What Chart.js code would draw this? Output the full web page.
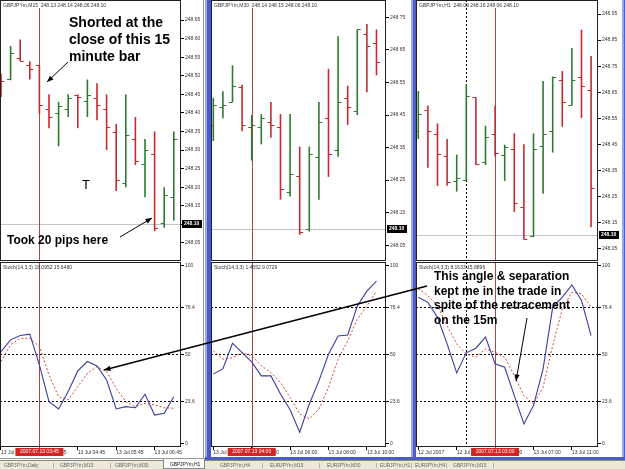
<!DOCTYPE html>
<html>
<head>
<meta charset="utf-8">
<script src="https://cdn.jsdelivr.net/npm/chart.js@4.4.0/dist/chart.umd.min.js"></script>
<style>
  body { margin: 0; width: 625px; height: 469px; overflow: hidden; background: #fff; position: relative;
         font-family: "Liberation Sans", Arial, sans-serif; }
  canvas { position: absolute; }
  .note { position: absolute; font-weight: bold; color: #000; white-space: nowrap; z-index: 5; }
  .blue { position: absolute; background: linear-gradient(to right, #9aa4e8 0, #9aa4e8 2px, #4a5ad0 2px); z-index: 3; }
  .tabs { position: absolute; left: 0; top: 460px; width: 625px; height: 9px; background: #ece9d8; border-top: 1px solid #8a8a8a; box-sizing: border-box; }
  .tab { position: absolute; top: 1px; font-size: 5px; line-height: 7px; color: #6a6a6a; white-space: nowrap; letter-spacing: -0.15px; }
  .tab.on { top: -2px; height: 10px; padding: 2px 4px 0 6px; background: #fafaf8; border: 1px solid #8a8a8a; border-top: none; color: #222; box-sizing: border-box; }
</style>
</head>
<body>
<canvas id="p1" width="205" height="261" style="left:0;top:0"></canvas>
<canvas id="s1" width="205" height="197" style="left:0;top:261px"></canvas>
<canvas id="p2" width="200" height="261" style="left:211px;top:0"></canvas>
<canvas id="s2" width="200" height="197" style="left:211px;top:261px"></canvas>
<canvas id="p3" width="206" height="261" style="left:416px;top:0"></canvas>
<canvas id="s3" width="206" height="197" style="left:416px;top:261px"></canvas>

<div style="position:absolute;left:203px;top:0;width:1px;height:459px;background:#999"></div>
<div style="position:absolute;left:0;top:458px;width:205px;height:1px;background:#999"></div>
<div class="blue" style="left:205px;top:0;width:6px;height:460px"></div>
<div class="blue" style="left:411px;top:0;width:5px;height:460px"></div>
<div class="blue" style="left:622px;top:0;width:3px;height:460px"></div>
<div class="blue" style="left:205px;top:457px;width:420px;height:3px;background:#4a5ad0"></div>

<div class="tabs">
  <span class="tab" style="left:4px">GBPJPYm,Daily</span>
  <span class="tab" style="left:53px">|</span>
  <span class="tab" style="left:60px">GBPJPYm,M15</span>
  <span class="tab" style="left:110px">|</span>
  <span class="tab" style="left:115px">GBPJPYm,M30</span>
  <span class="tab on" style="left:163px">GBPJPYm,H1</span>
  <span class="tab" style="left:220px">GBPJPYm,H4</span>
  <span class="tab" style="left:262px">|</span>
  <span class="tab" style="left:270px">EURJPYm,M15</span>
  <span class="tab" style="left:319px">|</span>
  <span class="tab" style="left:327px">EURJPYm,M30</span>
  <span class="tab" style="left:376px">|</span>
  <span class="tab" style="left:380px">EURJPYm,H1</span>
  <span class="tab" style="left:411px">|</span>
  <span class="tab" style="left:415px">EURJPYm,H4</span>
  <span class="tab" style="left:446px">|</span>
  <span class="tab" style="left:453px">GBPJPYm,M15</span>
  <span class="tab" style="left:493px">|</span>
</div>

<div class="note" style="left:69px;top:14px;font-size:14px;line-height:17px">Shorted at the<br>close of this 15<br>minute bar</div>
<div class="note" style="left:7px;top:233px;font-size:12px;line-height:14px">Took 20 pips here</div>
<div class="note" style="left:82px;top:177px;font-size:13px;font-weight:normal">T</div>
<div class="note" style="left:434px;top:269px;font-size:12px;line-height:14.5px">This angle &amp; separation<br>kept me in the trade in<br>spite of the retracement<br>on the 15m</div>

<canvas id="overlay" width="625" height="469" style="left:0;top:0;z-index:6;pointer-events:none"></canvas>

<script>
// GBPJPYm M15 (left window)
const m15Open  = [248.500, 248.490, 248.549, 248.528, 248.528, 248.410, 248.400, 248.411, 248.449, 248.431, 248.440, 248.410, 248.350, 248.211, 248.331, 248.262, 248.290, 248.103, 248.173];
const m15High  = [248.506, 248.580, 248.598, 248.539, 248.528, 248.450, 248.430, 248.450, 248.450, 248.490, 248.480, 248.450, 248.370, 248.450, 248.389, 248.330, 248.350, 248.200, 248.350];
const m15Low   = [248.443, 248.488, 248.539, 248.490, 248.398, 248.359, 248.310, 248.389, 248.359, 248.389, 248.380, 248.300, 248.190, 248.200, 248.260, 248.173, 248.082, 248.091, 248.110];
const m15Close = [248.485, 248.560, 248.540, 248.519, 248.420, 248.390, 248.418, 248.440, 248.443, 248.449, 248.420, 248.361, 248.220, 248.340, 248.270, 248.300, 248.090, 248.180, 248.330];
const m15Main   = [51.6, 58.2, 60.6, 61.4, 44.1, 23.4, 19.3, 29.1, 40.7, 46.0, 43.5, 35.6, 19.3, 20.6, 20.0, 27.6, 15.9, 16.9, 26.2];
const m15Signal = [46.0, 55.4, 59.1, 59.1, 54.4, 38.5, 26.2, 24.4, 31.9, 39.4, 43.1, 40.3, 31.0, 23.4, 20.6, 22.5, 21.6, 20.0, 19.7];
const m15PriceTicks = [248.05, 248.10, 248.15, 248.20, 248.25, 248.30, 248.35, 248.40, 248.45, 248.50, 248.55, 248.60, 248.65];
const m15TimeLabels = ['13 Jul 02:45', '13 Jul 03:45', '13 Jul 04:45', '13 Jul 05:45', '13 Jul 06:45'];

// GBPJPYm M30 (middle window)
const m30Open  = [248.420, 248.474, 248.490, 248.536, 248.414, 248.412, 248.430, 248.412, 248.213, 248.262, 248.100, 248.322, 248.440, 248.342, 248.503, 248.463, 248.700, 248.672];
const m30High  = [248.503, 248.523, 248.603, 248.543, 248.450, 248.453, 248.490, 248.453, 248.453, 248.353, 248.353, 248.490, 248.592, 248.692, 248.540, 248.713, 248.730, 248.713];
const m30Low   = [248.370, 248.440, 248.490, 248.400, 248.310, 248.360, 248.380, 248.190, 248.200, 248.082, 248.092, 248.190, 248.260, 248.322, 248.420, 248.450, 248.520, 248.572];
const m30Close = [248.480, 248.480, 248.540, 248.420, 248.420, 248.440, 248.420, 248.223, 248.270, 248.092, 248.330, 248.430, 248.331, 248.490, 248.474, 248.713, 248.662, 248.613];
const m30Main   = [38.9, 42.0, 56.3, 51.0, 45.8, 37.9, 37.9, 27.7, 18.9, 6.2, 22.1, 35.1, 50.1, 60.4, 60.9, 77.2, 85.6, 91.2];
const m30Signal = [52.0, 47.3, 48.2, 51.0, 49.2, 43.6, 39.8, 34.2, 25.8, 16.5, 13.7, 19.3, 31.4, 47.3, 57.6, 69.7, 77.2, 85.6];
const m30PriceTicks = [248.05, 248.15, 248.25, 248.35, 248.45, 248.55, 248.65, 248.75];
const m30TimeLabels = ['13 Jul 02:00', '13 Jul 04:00', '13 Jul 06:00', '13 Jul 08:00', '13 Jul 10:00'];

// GBPJPYm H1 (right window)
const h1Open  = [248.500, 248.582, 248.489, 248.403, 248.309, 248.312, 248.630, 248.380, 248.489, 248.410, 248.431, 248.210, 248.099, 248.442, 248.502, 248.695, 248.601, 248.708, 248.659];
const h1High  = [248.654, 248.599, 248.530, 248.470, 248.410, 248.680, 248.630, 248.521, 248.599, 248.448, 248.492, 248.450, 248.492, 248.693, 248.710, 248.731, 248.820, 248.890, 248.789];
const h1Low   = [248.470, 248.360, 248.290, 248.290, 248.268, 248.309, 248.370, 248.370, 248.403, 248.309, 248.190, 248.084, 248.093, 248.260, 248.418, 248.517, 248.599, 248.551, 248.131];
const h1Close = [248.566, 248.502, 248.412, 248.303, 248.320, 248.637, 248.373, 248.479, 248.418, 248.440, 248.225, 248.086, 248.431, 248.489, 248.708, 248.612, 248.698, 248.672, 248.281];
const h1Main   = [82.2, 79.3, 70.9, 55.9, 39.6, 50.9, 53.5, 59.7, 44.7, 42.8, 26.8, 10.9, 21.2, 41.9, 76.5, 82.2, 89.1, 80.3, 60.6];
const h1Signal = [86.9, 83.1, 77.5, 66.2, 55.9, 50.3, 48.4, 53.1, 51.2, 48.4, 38.1, 26.8, 22.2, 31.5, 55.0, 75.6, 85.0, 84.1, 76.5];
const h1PriceTicks = [248.05, 248.15, 248.25, 248.35, 248.45, 248.55, 248.65, 248.75, 248.85, 248.95];
const h1TimeLabels = ['12 Jul 2007', '12 Jul 23:00', '13 Jul 03:00', '13 Jul 07:00', '13 Jul 11:00'];

const timeTickBars = [0, 4, 8, 12, 16];
const stochLevels = [0, 23.6, 50, 76.4, 100];
const lastPrice = 248.10;

const FONT = '"Liberation Sans", Arial, sans-serif';
const BULL = '#2f7a30';
const BEAR = '#c62a2e';

const windows = [
  { price: 'p1', stoch: 's1', open: m15Open, high: m15High, low: m15Low, close: m15Close,
    main: m15Main, signal: m15Signal, ticks: m15PriceTicks, times: m15TimeLabels,
    title: 'GBPJPYm,M15  248.13 248.14 248.06 248.10', stochTitle: 'Stoch(14,3,3) 18.0952 15.6480',
    cursorBar: 4, cursorTime: '2007.07.13 03:45',
    xMin: -0.104, xMax: 18.75, yMin: 248.0014, yMax: 248.704, axisW: 24 },
  { price: 'p2', stoch: 's2', open: m30Open, high: m30High, low: m30Low, close: m30Close,
    main: m30Main, signal: m30Signal, ticks: m30PriceTicks, times: m30TimeLabels,
    title: 'GBPJPYm,M30  248.14 248.15 248.06 248.10', stochTitle: 'Stoch(14,3,3) 1.4652 9.0729',
    cursorBar: 4, cursorTime: '2007.07.13 04:00',
    xMin: -0.24, xMax: 17.99, yMin: 248.0014, yMax: 248.8036, axisW: 25 },
  { price: 'p3', stoch: 's3', open: h1Open, high: h1High, low: h1Low, close: h1Close,
    main: h1Main, signal: h1Signal, ticks: h1PriceTicks, times: h1TimeLabels,
    title: 'GBPJPYm,H1  248.09 248.16 248.06 248.10', stochTitle: 'Stoch(14,3,3) 8.1633 15.8896',
    cursorBar: 8, dotBar: 5, cursorTime: '2007.07.13 03:00',
    xMin: -0.24, xMax: 18.72, yMin: 248.0013, yMax: 249.0041, axisW: 24 }
];

// open / close ticks of each OHLC bar
function ohlcTicks(w) {
  return {
    id: 'ohlcTicks',
    afterDatasetsDraw(chart) {
      const { ctx, scales: { x, y } } = chart;
      ctx.save();
      ctx.lineWidth = 1.2;
      w.open.forEach((o, i) => {
        const px = x.getPixelForValue(i);
        const yo = Math.round(y.getPixelForValue(o)) + 0.5;
        const yc = Math.round(y.getPixelForValue(w.close[i])) + 0.5;
        ctx.strokeStyle = w.close[i] > o ? BULL : BEAR;
        ctx.beginPath();
        ctx.moveTo(px - 3.5, yo); ctx.lineTo(px, yo);
        ctx.moveTo(px, yc); ctx.lineTo(px + 3.5, yc);
        ctx.stroke();
      });
      ctx.restore();
    }
  };
}

// frame, cursor lines, labels like the terminal draws them
function windowDecor(w, isStoch) {
  return {
    id: 'windowDecor',
    beforeDatasetsDraw(chart) {
      const { ctx, chartArea: a, scales: { x, y } } = chart;
      ctx.save();
      ctx.lineWidth = 1;
      if (!isStoch) {
        const py = Math.round(y.getPixelForValue(lastPrice)) + 0.5;
        ctx.strokeStyle = '#c4c4c4';
        ctx.beginPath(); ctx.moveTo(a.left, py); ctx.lineTo(a.right, py); ctx.stroke();
      }
      if (w.dotBar !== undefined) {
        const dx = Math.round(x.getPixelForValue(w.dotBar)) + 0.5;
        ctx.setLineDash([2, 2]);
        ctx.strokeStyle = '#000';
        ctx.beginPath(); ctx.moveTo(dx, a.top); ctx.lineTo(dx, a.bottom); ctx.stroke();
        ctx.setLineDash([]);
      }
      const cx = Math.round(x.getPixelForValue(w.cursorBar)) + 0.5;
      ctx.strokeStyle = '#a84848';
      ctx.beginPath();
      ctx.moveTo(cx, isStoch ? a.top : a.top + 8);
      ctx.lineTo(cx, isStoch ? a.bottom + 2 : a.bottom);
      ctx.stroke();
      ctx.restore();
    },
    afterDraw(chart) {
      const { ctx, chartArea: a, scales: { x, y } } = chart;
      ctx.save();
      ctx.strokeStyle = '#222';
      ctx.lineWidth = 1;
      ctx.strokeRect(a.left + 0.5, a.top + 0.5, a.right - a.left - 1, a.bottom - a.top - 1);
      ctx.font = '5px ' + FONT;
      ctx.fillStyle = '#333';
      ctx.textBaseline = 'middle';
      ctx.textAlign = 'left';
      ctx.fillText(isStoch ? w.stochTitle : w.title, a.left + 3, a.top + 6);
      if (!isStoch) {
        const py = Math.round(y.getPixelForValue(lastPrice));
        ctx.fillStyle = '#000';
        ctx.fillRect(a.right + 1, py - 4, 20, 8);
        ctx.fillStyle = '#fff';
        ctx.font = 'bold 5px ' + FONT;
        ctx.fillText(lastPrice.toFixed(2), a.right + 3, py);
      } else {
        const cx = x.getPixelForValue(w.cursorBar);
        ctx.fillStyle = '#d42424';
        ctx.fillRect(cx - 24, a.bottom + 1, 48, 8);
        ctx.fillStyle = '#fff';
        ctx.textAlign = 'center';
        ctx.fillText(w.cursorTime, cx, a.bottom + 5);
      }
      ctx.restore();
    }
  };
}

const baseOptions = {
  responsive: false,
  animation: false,
  events: [],
  plugins: { legend: { display: false }, tooltip: { enabled: false } }
};

function createPriceChart(w) {
  const ctx = document.getElementById(w.price).getContext('2d');
  return new Chart(ctx, {
    type: 'bar',
    data: {
      datasets: [{
        data: w.high.map((h, i) => ({ x: i, y: [w.low[i], h] })),
        backgroundColor: w.close.map((c, i) => c > w.open[i] ? BULL : BEAR),
        borderWidth: 0,
        inflateAmount: 0,
        barThickness: 1.6,
        maxBarThickness: 1.6
      }]
    },
    options: {
      ...baseOptions,
      layout: { padding: 0 },
      scales: {
        x: { type: 'linear', display: false, offset: false, min: w.xMin, max: w.xMax, grid: { offset: false } },
        y: {
          position: 'right', min: w.yMin, max: w.yMax, beginAtZero: false,
          afterBuildTicks: s => { s.ticks = w.ticks.map(v => ({ value: v })); },
          afterFit: s => { s.width = w.axisW; s.paddingTop = 0; s.paddingBottom = 0; },
          ticks: { autoSkip: false, padding: 1, color: '#333', font: { size: 5, family: FONT }, callback: v => v.toFixed(2) },
          grid: { drawOnChartArea: false, tickLength: 3, tickColor: '#000' },
          border: { display: false }
        }
      }
    },
    plugins: [windowDecor(w, false), ohlcTicks(w)]
  });
}

function createStochChart(w) {
  const ctx = document.getElementById(w.stoch).getContext('2d');
  return new Chart(ctx, {
    type: 'line',
    data: {
      datasets: [{
        data: w.main.map((v, i) => ({ x: i, y: v })),
        borderColor: '#3d3d9e',
        borderWidth: 1.1,
        pointRadius: 0
      }, {
        data: w.signal.map((v, i) => ({ x: i, y: v })),
        borderColor: '#cc4a3a',
        borderWidth: 1,
        borderDash: [2, 2],
        pointRadius: 0
      }]
    },
    options: {
      ...baseOptions,
      layout: { padding: { top: 1 } },
      scales: {
        x: {
          type: 'linear', min: w.xMin, max: w.xMax,
          afterBuildTicks: s => { s.ticks = timeTickBars.map(v => ({ value: v })); },
          afterFit: s => { s.height = 11; s.paddingLeft = 0; s.paddingRight = 0; },
          ticks: {
            autoSkip: false, maxRotation: 0, align: 'start', padding: 0, color: '#333',
            font: { size: 5, family: FONT },
            callback: (v, i) => w.times[i]
          },
          grid: { drawOnChartArea: false, tickLength: 3, tickColor: '#000' },
          border: { display: false }
        },
        y: {
          position: 'right', min: -2.1, max: 102,
          afterBuildTicks: s => { s.ticks = stochLevels.map(v => ({ value: v })); },
          afterFit: s => { s.width = w.axisW; s.paddingTop = 0; s.paddingBottom = 0; },
          ticks: { autoSkip: false, padding: 1, color: '#333', font: { size: 5, family: FONT }, callback: v => String(v) },
          grid: {
            color: c => (c.tick && c.tick.value > 0 && c.tick.value < 100) ? '#000' : 'rgba(0,0,0,0)',
            tickColor: '#000', tickLength: 3, lineWidth: 1
          },
          border: { display: false, dash: [2, 2] }
        }
      }
    },
    plugins: [windowDecor(w, true)]
  });
}

windows.forEach(w => {
  createPriceChart(w);
  createStochChart(w);
});

// hand-drawn arrows of the annotation
const arrows = [
  [68, 62, 47, 82, 1],
  [120, 237, 152, 218, 1],
  [427, 286, 104, 370, 1.3],
  [527, 318, 516, 381, 1]
];
const octx = document.getElementById('overlay').getContext('2d');
octx.fillStyle = '#000';
octx.strokeStyle = '#000';
arrows.forEach(([x1, y1, x2, y2, lw]) => {
  const ang = Math.atan2(y2 - y1, x2 - x1);
  octx.lineWidth = lw;
  octx.beginPath(); octx.moveTo(x1, y1); octx.lineTo(x2, y2); octx.stroke();
  octx.beginPath();
  octx.moveTo(x2, y2);
  octx.lineTo(x2 - 7 * Math.cos(ang - 0.38), y2 - 7 * Math.sin(ang - 0.38));
  octx.lineTo(x2 - 7 * Math.cos(ang + 0.38), y2 - 7 * Math.sin(ang + 0.38));
  octx.closePath();
  octx.fill();
});
</script>
</body>
</html>
